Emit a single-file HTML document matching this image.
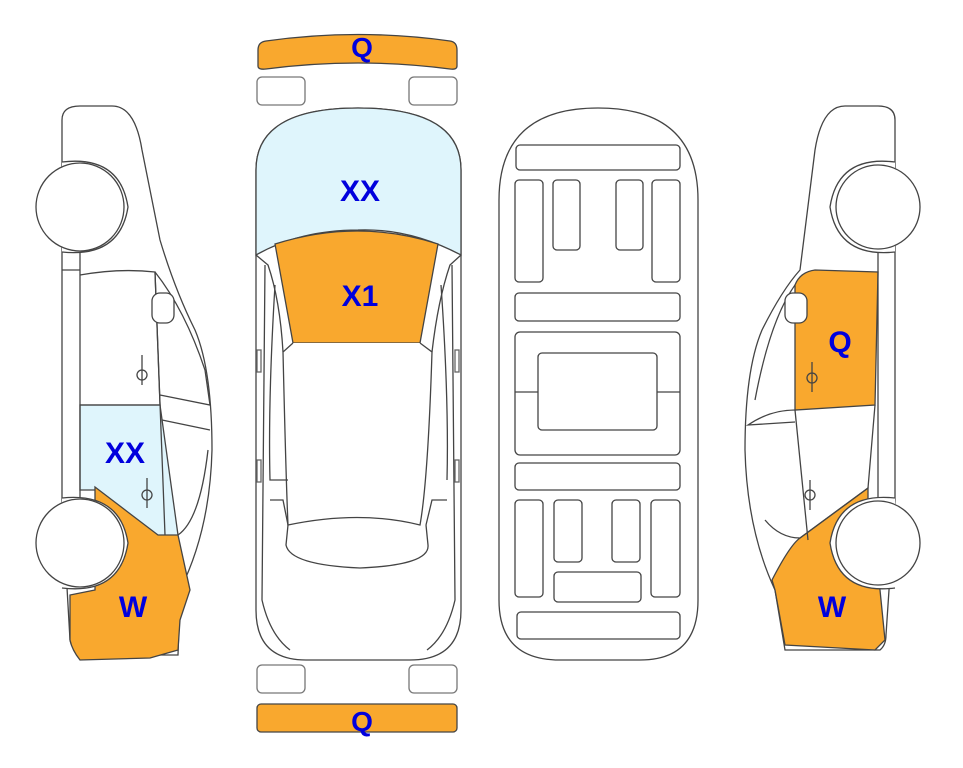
<!DOCTYPE html>
<html><head><meta charset="utf-8"><style>
html,body{margin:0;padding:0;background:#fff;}
svg{display:block}
text{font-family:"Liberation Sans",Arial,sans-serif;font-weight:bold;fill:#0000dd;text-anchor:middle}
</style></head><body>
<svg width="963" height="768" viewBox="0 0 963 768" xmlns="http://www.w3.org/2000/svg">
<g stroke="#444" stroke-width="1.3" fill="#fff">
<path d="M258,50 Q258,42 266,41 Q358,28 450,41 Q457,42 457,50 L457,66 Q457,70 450,69 Q358,57 266,69 Q258,70 258,66 Z" fill="#f9a82e"/>
<rect x="257" y="77" width="48" height="28" rx="5" stroke="#777"/>
<rect x="409" y="77" width="48" height="28" rx="5" stroke="#777"/>
<rect x="257" y="665" width="48" height="28" rx="5" stroke="#777"/>
<rect x="409" y="665" width="48" height="28" rx="5" stroke="#777"/>
<rect x="257" y="704" width="200" height="28" rx="4" fill="#f9a82e"/>

<path d="M256,255 L256,170 Q256,108 358,108 Q461,108 461,170 L461,610 Q461,660 410,660 L306,660 Q256,660 256,610 Z"/>
<path d="M256,255 L256,170 Q256,108 358,108 Q461,108 461,170 L461,255 Q410,228 358,230 Q300,230 256,255 Z" fill="#dff5fc"/>
<path d="M275,244 Q358,218 438,244 L420,343 L293,343 Z" fill="#f9a82e"/>
<path d="M293,343 L283,352 Q286,480 288,525 Q360,510 420,525 Q428,480 432,352 L420,343"/>
<path d="M288,525 L286,545 Q290,565 360,568 Q430,565 428,545 L426,525" fill="none"/>
<path d="M256,255 L268,265 Q280,300 283,352" fill="none"/>
<path d="M461,255 L450,265 Q438,300 432,352" fill="none"/>
<path d="M265,265 L262,600 Q270,635 290,650" fill="none"/>
<path d="M452,265 L455,600 Q447,635 427,650" fill="none"/>
<path d="M275,285 Q268,400 270,480 Q272,480 288,480" fill="none"/>
<path d="M441,285 Q449,400 447,480" fill="none"/>
<path d="M270,500 L283,500 L288,525" fill="none"/>
<path d="M447,500 L432,500 L426,525" fill="none"/>
<rect x="257" y="350" width="4" height="22" stroke="#666"/>
<rect x="257" y="460" width="4" height="22" stroke="#666"/>
<rect x="455" y="350" width="4" height="22" stroke="#666"/>
<rect x="455" y="460" width="4" height="22" stroke="#666"/>

<path d="M499,200 Q499,108 598,108 Q698,108 698,200 L698,600 Q698,660 640,660 L560,660 Q499,660 499,600 Z"/>
<rect x="516" y="145" width="164" height="25" rx="4"/>
<rect x="515" y="180" width="28" height="102" rx="4"/>
<rect x="553" y="180" width="27" height="70" rx="4"/>
<rect x="616" y="180" width="27" height="70" rx="4"/>
<rect x="652" y="180" width="28" height="102" rx="4"/>
<rect x="515" y="293" width="165" height="28" rx="4"/>
<rect x="515" y="332" width="165" height="123" rx="5"/>
<line x1="515" y1="392" x2="680" y2="392"/>
<rect x="538" y="353" width="119" height="77" rx="4"/>
<rect x="515" y="463" width="165" height="27" rx="4"/>
<rect x="515" y="500" width="28" height="97" rx="4"/>
<rect x="554" y="500" width="28" height="62" rx="4"/>
<rect x="612" y="500" width="28" height="62" rx="4"/>
<rect x="651" y="500" width="29" height="97" rx="4"/>
<rect x="554" y="572" width="87" height="30" rx="4"/>
<rect x="517" y="612" width="163" height="27" rx="4"/>

<path d="M62,120 Q62,106 80,106 L112,106 Q135,106 142,150 L160,240 Q175,290 195,330 Q212,370 212,450 Q210,530 180,590 L178,655 L80,655 Q72,650 70,640 L62,500 Z"/>
<path d="M80,405 L160,405 L178,535 L160,538 L95,490 L80,490 Z" fill="#dff5fc"/>
<path d="M95,487 L158,535 L178,535 L190,590 L180,620 L178,650 L150,658 L80,660 Q72,650 70,640 L70,595 L95,590 Z" fill="#f9a82e"/>
<path d="M80,275 Q120,268 155,272 L160,405 L80,405" fill="none"/>
<path d="M155,272 L165,535 M155,272 Q185,310 205,370 L210,405 L160,395" fill="none"/>
<path d="M162,420 L210,430 M178,535 Q200,520 208,450" fill="none"/>
<path d="M80,250 L80,500 M80,270 L62,270" fill="none"/>
<rect x="152" y="293" width="22" height="30" rx="8"/>
<line x1="142" y1="355" x2="142" y2="385"/><circle cx="142" cy="375" r="5" fill="none"/>
<line x1="147" y1="478" x2="147" y2="508"/><circle cx="147" cy="495" r="5" fill="none"/>
<path d="M62,162 Q120,155 128,207 Q120,258 62,252" fill="#fff"/>
<path d="M62,498 Q120,492 128,543 Q120,595 62,588" fill="#fff"/>
<circle cx="80" cy="207" r="44"/>
<circle cx="80" cy="543" r="44"/>

<path d="M895,120 Q895,106 878,106 L845,106 Q822,106 815,150 L800,270 Q782,290 762,330 Q745,370 745,450 Q747,530 775,590 L785,650 L880,650 Q886,645 886,635 L895,500 Z"/>
<path d="M795,285 Q800,272 815,270 L878,272 L875,405 L795,410 Z" fill="#f9a82e"/>
<path d="M868,488 L868,530 L880,590 L885,640 L875,650 L785,645 L775,590 L772,580 Q790,545 800,538 Z" fill="#f9a82e"/>
<path d="M795,410 L808,540 M875,405 L868,488 L800,538 Q780,538 765,520" fill="none"/>
<path d="M795,410 Q770,410 748,425 L795,422" fill="none"/>
<path d="M795,285 Q770,320 755,400" fill="none"/>
<path d="M878,250 L878,500" fill="none"/>
<rect x="785" y="293" width="22" height="30" rx="8"/>
<line x1="812" y1="362" x2="812" y2="392"/><circle cx="812" cy="378" r="5" fill="none"/>
<line x1="810" y1="480" x2="810" y2="510"/><circle cx="810" cy="495" r="5" fill="none"/>
<path d="M895,162 Q838,155 830,207 Q838,258 895,252" fill="#fff"/>
<path d="M895,498 Q838,492 830,543 Q838,595 895,588" fill="#fff"/>
<circle cx="878" cy="207" r="42"/>
<circle cx="878" cy="543" r="42"/>
</g>
<text x="362" y="57" font-size="28">Q</text>
<text x="360" y="201" font-size="30">XX</text>
<text x="360" y="306" font-size="30">X1</text>
<text x="125" y="463" font-size="30">XX</text>
<text x="133" y="617" font-size="30">W</text>
<text x="840" y="352" font-size="30">Q</text>
<text x="832" y="617" font-size="30">W</text>
<text x="362" y="731" font-size="28">Q</text>
</svg>
</body></html>
